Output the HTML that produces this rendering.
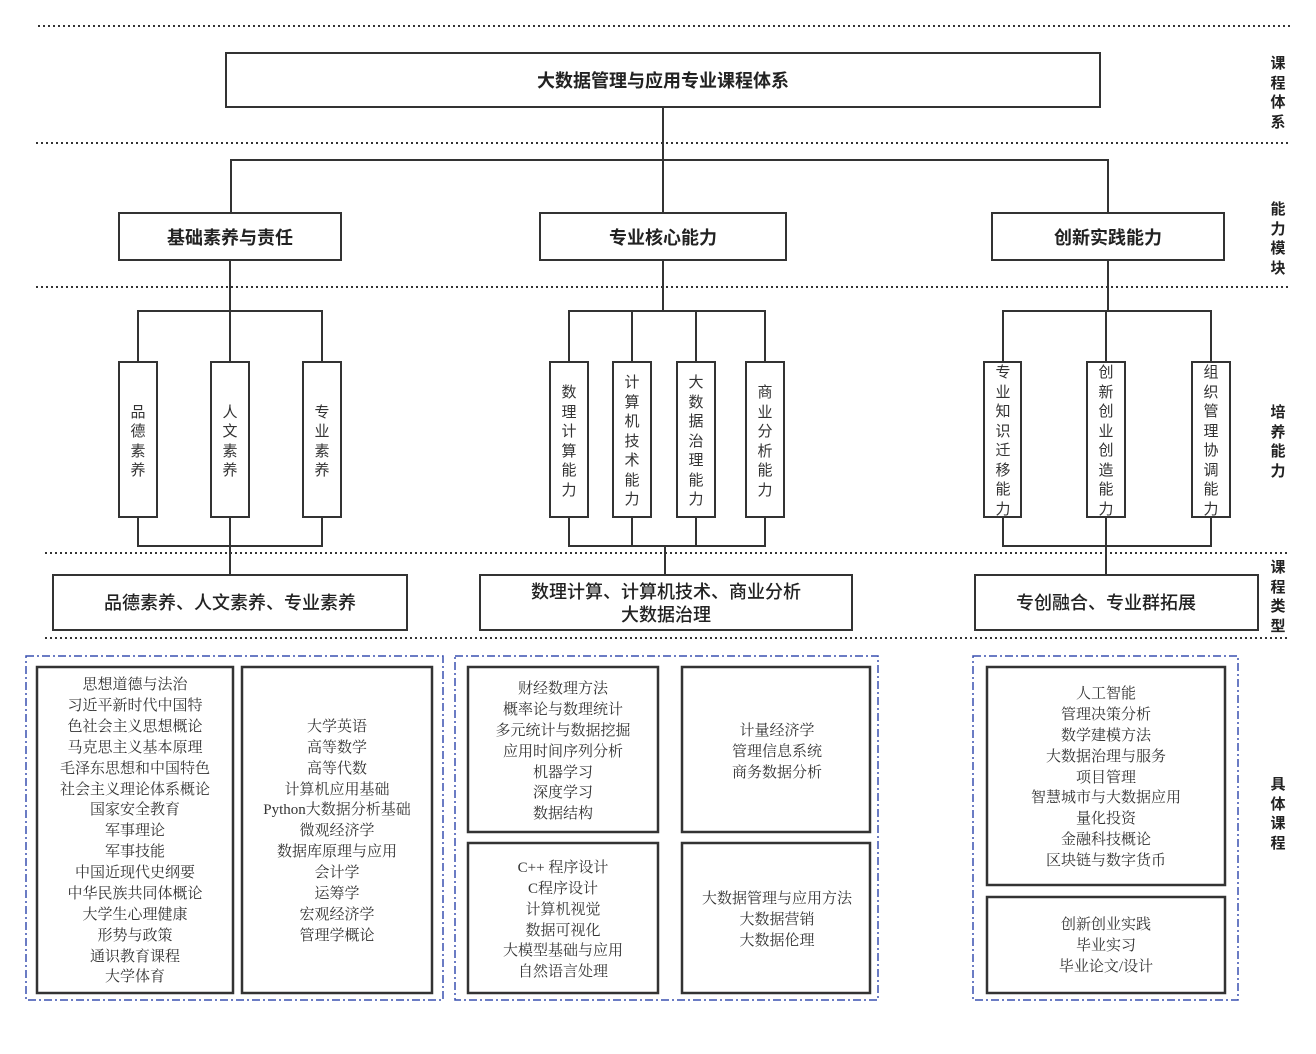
<!DOCTYPE html>
<html><head><meta charset="utf-8"><style>
html,body{margin:0;padding:0;background:#fff}
svg{display:block}
.s{font-family:"Liberation Sans","Noto Sans CJK SC",sans-serif;fill:#222}
.r{font-family:"Liberation Serif","Noto Serif CJK SC",serif;fill:#333;font-size:15px}
.v{font-family:"Liberation Sans","Noto Sans CJK SC",sans-serif;fill:#333;font-size:15px}
</style></head><body>
<svg width="1316" height="1054" viewBox="0 0 1316 1054" xmlns="http://www.w3.org/2000/svg">
<g stroke="#333" stroke-width="2" stroke-dasharray="2,3">
<line x1="38" y1="26" x2="1290" y2="26"/>
<line x1="36" y1="143" x2="1290" y2="143"/>
<line x1="36" y1="287" x2="1290" y2="287"/>
<line x1="45" y1="553" x2="1290" y2="553"/>
<line x1="45" y1="638" x2="1290" y2="638"/>
</g>
<g fill="none" stroke="#333" stroke-width="2">
<polyline points="663,107 663,213"/>
<polyline points="231,213 231,160 1108,160 1108,213"/>
<line x1="230" y1="260" x2="230" y2="575"/>
<polyline points="138,362 138,311 322,311 322,362"/>
<polyline points="138,517 138,546 322,546 322,517"/>
<line x1="663" y1="260" x2="663" y2="311"/>
<polyline points="569,362 569,311 765,311 765,362"/>
<line x1="632" y1="311" x2="632" y2="362"/><line x1="696" y1="311" x2="696" y2="362"/>
<polyline points="569,517 569,546 765,546 765,517"/>
<line x1="632" y1="517" x2="632" y2="546"/><line x1="696" y1="517" x2="696" y2="546"/>
<line x1="665" y1="546" x2="665" y2="575"/>
<line x1="1108" y1="260" x2="1108" y2="311"/>
<polyline points="1003,362 1003,311 1211,311 1211,362"/>
<line x1="1106" y1="311" x2="1106" y2="362"/>
<polyline points="1003,517 1003,546 1211,546 1211,517"/>
<line x1="1106" y1="517" x2="1106" y2="575"/>
</g>
<g fill="#fff" stroke="#333" stroke-width="2">
<rect x="226" y="53" width="874" height="54"/>
<rect x="119" y="213" width="222" height="47"/>
<rect x="540" y="213" width="246" height="47"/>
<rect x="992" y="213" width="232" height="47"/>
<rect x="119" y="362" width="38" height="155"/>
<rect x="211" y="362" width="38" height="155"/>
<rect x="303" y="362" width="38" height="155"/>
<rect x="550" y="362" width="38" height="155"/>
<rect x="613" y="362" width="38" height="155"/>
<rect x="677" y="362" width="38" height="155"/>
<rect x="746" y="362" width="38" height="155"/>
<rect x="984" y="362" width="37" height="155"/>
<rect x="1087" y="362" width="38" height="155"/>
<rect x="1192" y="362" width="38" height="155"/>
<rect x="53" y="575" width="354" height="55"/>
<rect x="480" y="575" width="372" height="55"/>
<rect x="975" y="575" width="283" height="55"/>
<rect x="37" y="667" width="196" height="326" stroke-width="2.5"/>
<rect x="242" y="667" width="190" height="326" stroke-width="2.5"/>
<rect x="468" y="667" width="190" height="165" stroke-width="2.5"/>
<rect x="682" y="667" width="188" height="165" stroke-width="2.5"/>
<rect x="468" y="843" width="190" height="150" stroke-width="2.5"/>
<rect x="682" y="843" width="188" height="150" stroke-width="2.5"/>
<rect x="987" y="667" width="238" height="218" stroke-width="2.5"/>
<rect x="987" y="897" width="238" height="96" stroke-width="2.5"/>
</g>
<g fill="none" stroke="#3a50b0" stroke-width="1.5" stroke-dasharray="8,3,2,3">
<rect x="26" y="656" width="417" height="344"/>
<rect x="455" y="656" width="423" height="344"/>
<rect x="973" y="656" width="265" height="344"/>
</g>
<g class="s" font-weight="bold" text-anchor="middle" font-size="18">
<text x="663" y="87">大数据管理与应用专业课程体系</text>
<text x="230" y="244">基础素养与责任</text>
<text x="663" y="244">专业核心能力</text>
<text x="1108" y="244">创新实践能力</text>
</g>
<g class="s" text-anchor="middle" font-size="18" font-weight="500">
<text x="230" y="609">品德素养、人文素养、专业素养</text>
<text x="666" y="598">数理计算、计算机技术、商业分析</text>
<text x="666" y="621">大数据治理</text>
<text x="1106" y="609">专创融合、专业群拓展</text>
</g>
<g class="s" font-weight="bold" font-size="15" text-anchor="middle">
<text x="1278" y="68">课</text><text x="1278" y="88">程</text><text x="1278" y="107">体</text><text x="1278" y="127">系</text>
<text x="1278" y="214">能</text><text x="1278" y="234">力</text><text x="1278" y="253">模</text><text x="1278" y="273">块</text>
<text x="1278" y="417">培</text><text x="1278" y="437">养</text><text x="1278" y="456">能</text><text x="1278" y="476">力</text>
<text x="1278" y="572">课</text><text x="1278" y="592">程</text><text x="1278" y="611">类</text><text x="1278" y="631">型</text>
<text x="1278" y="789">具</text><text x="1278" y="809">体</text><text x="1278" y="828">课</text><text x="1278" y="848">程</text>
</g>
<g class="v" text-anchor="middle">
<text x="138" y="417">品</text><text x="138" y="436">德</text><text x="138" y="456">素</text><text x="138" y="475">养</text>
<text x="230" y="417">人</text><text x="230" y="436">文</text><text x="230" y="456">素</text><text x="230" y="475">养</text>
<text x="322" y="417">专</text><text x="322" y="436">业</text><text x="322" y="456">素</text><text x="322" y="475">养</text>
<text x="569" y="397">数</text><text x="569" y="417">理</text><text x="569" y="436">计</text><text x="569" y="456">算</text><text x="569" y="475">能</text><text x="569" y="495">力</text>
<text x="632" y="387">计</text><text x="632" y="407">算</text><text x="632" y="426">机</text><text x="632" y="446">技</text><text x="632" y="465">术</text><text x="632" y="485">能</text><text x="632" y="504">力</text>
<text x="696" y="387">大</text><text x="696" y="407">数</text><text x="696" y="426">据</text><text x="696" y="446">治</text><text x="696" y="465">理</text><text x="696" y="485">能</text><text x="696" y="504">力</text>
<text x="765" y="397">商</text><text x="765" y="417">业</text><text x="765" y="436">分</text><text x="765" y="456">析</text><text x="765" y="475">能</text><text x="765" y="495">力</text>
<text x="1003" y="377">专</text><text x="1003" y="397">业</text><text x="1003" y="416">知</text><text x="1003" y="436">识</text><text x="1003" y="455">迁</text><text x="1003" y="475">移</text><text x="1003" y="494">能</text><text x="1003" y="514">力</text>
<text x="1106" y="377">创</text><text x="1106" y="397">新</text><text x="1106" y="416">创</text><text x="1106" y="436">业</text><text x="1106" y="455">创</text><text x="1106" y="475">造</text><text x="1106" y="494">能</text><text x="1106" y="514">力</text>
<text x="1211" y="377">组</text><text x="1211" y="397">织</text><text x="1211" y="416">管</text><text x="1211" y="436">理</text><text x="1211" y="455">协</text><text x="1211" y="475">调</text><text x="1211" y="494">能</text><text x="1211" y="514">力</text>
</g>
<g class="r" text-anchor="middle">
<text x="135" y="689">思想道德与法治</text><text x="135" y="710">习近平新时代中国特</text><text x="135" y="731">色社会主义思想概论</text><text x="135" y="752">马克思主义基本原理</text><text x="135" y="773">毛泽东思想和中国特色</text><text x="135" y="794">社会主义理论体系概论</text><text x="135" y="814">国家安全教育</text><text x="135" y="835">军事理论</text><text x="135" y="856">军事技能</text><text x="135" y="877">中国近现代史纲要</text><text x="135" y="898">中华民族共同体概论</text><text x="135" y="919">大学生心理健康</text><text x="135" y="940">形势与政策</text><text x="135" y="961">通识教育课程</text><text x="135" y="981">大学体育</text>
<text x="337" y="731">大学英语</text><text x="337" y="752">高等数学</text><text x="337" y="773">高等代数</text><text x="337" y="794">计算机应用基础</text><text x="337" y="814">Python大数据分析基础</text><text x="337" y="835">微观经济学</text><text x="337" y="856">数据库原理与应用</text><text x="337" y="877">会计学</text><text x="337" y="898">运筹学</text><text x="337" y="919">宏观经济学</text><text x="337" y="940">管理学概论</text>
<text x="563" y="693">财经数理方法</text><text x="563" y="714">概率论与数理统计</text><text x="563" y="735">多元统计与数据挖掘</text><text x="563" y="756">应用时间序列分析</text><text x="563" y="777">机器学习</text><text x="563" y="797">深度学习</text><text x="563" y="818">数据结构</text>
<text x="777" y="735">计量经济学</text><text x="777" y="756">管理信息系统</text><text x="777" y="777">商务数据分析</text>
<text x="563" y="872">C++ 程序设计</text><text x="563" y="893">C程序设计</text><text x="563" y="914">计算机视觉</text><text x="563" y="935">数据可视化</text><text x="563" y="955">大模型基础与应用</text><text x="563" y="976">自然语言处理</text>
<text x="777" y="903">大数据管理与应用方法</text><text x="777" y="924">大数据营销</text><text x="777" y="945">大数据伦理</text>
<text x="1106" y="698">人工智能</text><text x="1106" y="719">管理决策分析</text><text x="1106" y="740">数学建模方法</text><text x="1106" y="761">大数据治理与服务</text><text x="1106" y="782">项目管理</text><text x="1106" y="802">智慧城市与大数据应用</text><text x="1106" y="823">量化投资</text><text x="1106" y="844">金融科技概论</text><text x="1106" y="865">区块链与数字货币</text>
<text x="1106" y="929">创新创业实践</text><text x="1106" y="950">毕业实习</text><text x="1106" y="971">毕业论文/设计</text>
</g>
</svg>
</body></html>
